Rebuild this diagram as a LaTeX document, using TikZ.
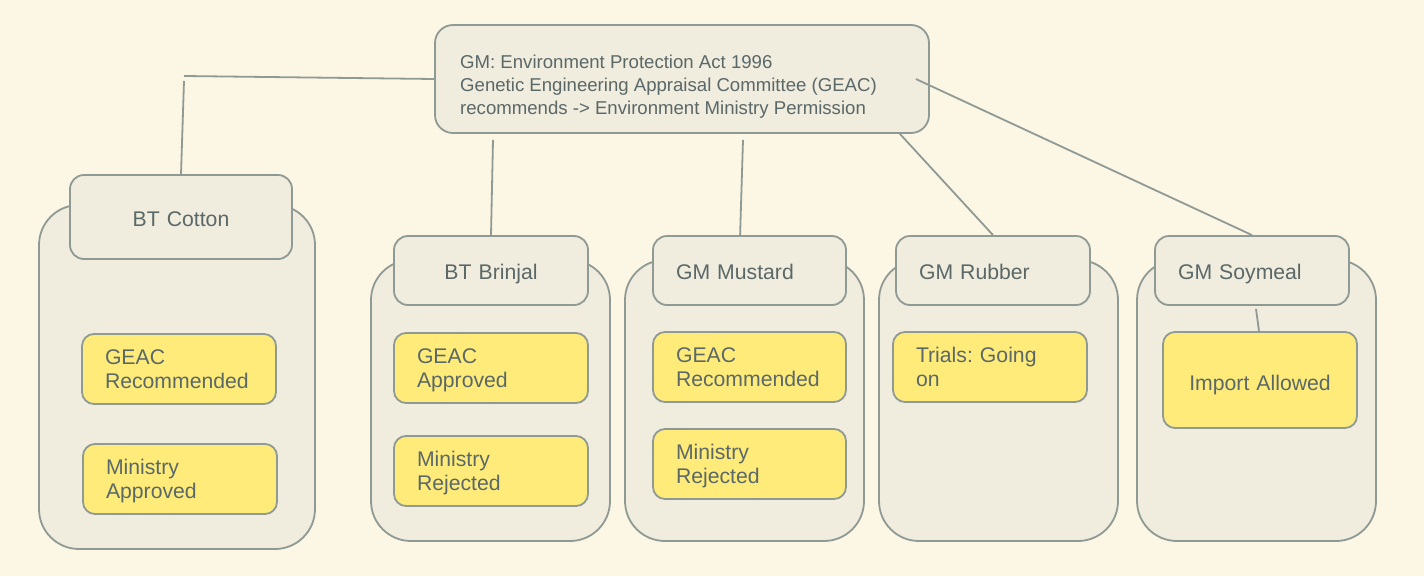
\documentclass[tikz,border=0pt]{standalone}
\usepackage{fontspec}
\setmainfont{Liberation Sans}
\frenchspacing
\definecolor{bg}{HTML}{FCF6E4}
\definecolor{boxfill}{HTML}{F0ECDE}
\definecolor{edge}{HTML}{8F9A95}
\definecolor{ylw}{HTML}{FFEB7A}
\definecolor{txt}{HTML}{5A6868}
\tikzset{
  base/.style={draw=edge, line width=1.8pt, inner sep=0pt, text=txt,
    font=\fontsize{21.2pt}{23.5pt}\selectfont},
  outerbox/.style={base, fill=boxfill, rounded corners=40pt},
  hdrc/.style={base, fill=boxfill, rounded corners=14pt, align=center, text height=18.5pt, text depth=0pt},
  hdrl/.style={base, fill=boxfill, rounded corners=14pt, align=left, inner xsep=23pt, text height=18.5pt, text depth=0pt},
  ybox/.style={base, fill=ylw, rounded corners=12pt, align=left, inner xsep=23pt, text height=15.2pt, text depth=23.5pt},
  yboxc/.style={base, fill=ylw, rounded corners=12pt, align=center, text height=21pt, text depth=0pt},
  topbox/.style={base, fill=boxfill, rounded corners=18pt},
  toptext/.style={text=txt, inner sep=0pt, align=left,
    font=\fontsize{18.6pt}{23.2pt}\selectfont},
  conn/.style={draw=edge, line width=1.8pt}
}
\begin{document}
\begin{tikzpicture}[x=1pt,y=-1pt]
\fill[bg] (0,0) rectangle (1424,576);
\useasboundingbox (0,0) rectangle (1424,576);

% top box
\node[topbox, minimum width=494pt, minimum height=108pt] (top) at (682,79) {};
\node[toptext, anchor=west] (toptxt) at (460,86.5) {GM: Environment Protection Act 1996\\Genetic Engineering Appraisal Committee (GEAC)\\recommends -> Environment Ministry Permission};

% outer containers
\node[outerbox, minimum width=276pt, minimum height=344pt] (cottonO) at (177,377) {};
\node[outerbox, minimum width=239pt, minimum height=281pt] (brinjalO) at (490.5,400.5) {};
\node[outerbox, minimum width=239pt, minimum height=281pt] (mustardO) at (744.5,400.5) {};
\node[outerbox, minimum width=239pt, minimum height=281pt] (rubberO) at (998.5,400.5) {};
\node[outerbox, minimum width=239pt, minimum height=281pt] (soyO) at (1256.5,400.5) {};

% headers
\node[hdrc, minimum width=222pt, minimum height=84pt, text width=200pt] (cottonH) at (181,217) {BT Cotton};
\node[hdrc, minimum width=194pt, minimum height=69pt, text width=180pt] (brinjalH) at (491,270.5) {BT Brinjal};
\node[hdrl, minimum width=193pt, minimum height=69pt, text width=147pt] (mustardH) at (749.5,270.5) {GM Mustard};
\node[hdrl, minimum width=194pt, minimum height=69pt, text width=148pt] (rubberH) at (993,270.5) {GM Rubber};
\node[hdrl, minimum width=194pt, minimum height=69pt, text width=148pt] (soyH) at (1252,270.5) {GM Soymeal};

% yellow status boxes
\node[ybox, minimum width=194pt, minimum height=70pt, text width=148pt] (cottonY1) at (179,369) {GEAC\\Recommended};
\node[ybox, minimum width=194pt, minimum height=70pt, text width=148pt] (cottonY2) at (180,479) {Ministry\\Approved};
\node[ybox, minimum width=194pt, minimum height=70pt, text width=148pt] (brinjalY1) at (491,368) {GEAC\\Approved};
\node[ybox, minimum width=194pt, minimum height=70pt, text width=148pt] (brinjalY2) at (491,471) {Ministry\\Rejected};
\node[ybox, minimum width=193pt, minimum height=70pt, text width=147pt] (mustardY1) at (749.5,367) {GEAC\\Recommended};
\node[ybox, minimum width=193pt, minimum height=70pt, text width=147pt] (mustardY2) at (749.5,464) {Ministry\\Rejected};
\node[ybox, minimum width=194pt, minimum height=70pt, text width=148pt] (rubberY) at (990,367) {Trials: Going\\on};
\node[yboxc, minimum width=194pt, minimum height=96pt, text width=180pt] (soyY) at (1260,380) {Import Allowed};

% connectors
\coordinate (e1) at (184,76);
\coordinate (e2) at (184,81);
\draw[conn] (top.west) -- (e1);
\draw[conn] (e2) -- (cottonH.north);
\draw[conn] ([xshift=-189pt,yshift=-6pt]top.south) -- (brinjalH.north);
\draw[conn] ([xshift=61pt,yshift=-6pt]top.south) -- ([xshift=88pt]mustardH.north west);
\draw[conn] ([xshift=-30pt]top.south east) -- (rubberH.north);
\draw[conn] ([xshift=-14pt]top.east) -- (soyH.north);
\draw[conn] ([xshift=4pt,yshift=-3pt]soyH.south) -- ([xshift=-1pt]soyY.north);
\end{tikzpicture}
\end{document}
